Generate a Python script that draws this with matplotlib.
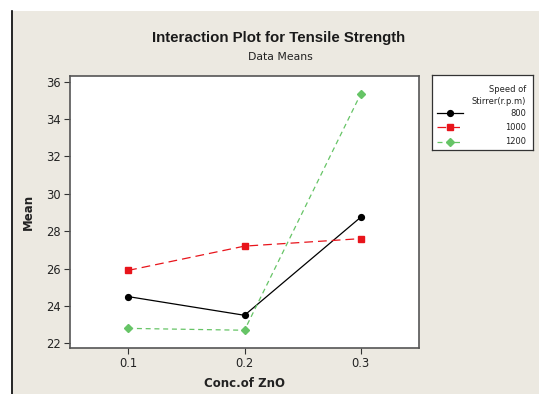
import matplotlib
matplotlib.use('Agg')
import matplotlib.pyplot as plt
from matplotlib.patches import Rectangle
from matplotlib.lines import Line2D

# ZnO concentration levels and mean tensile strength per stirrer speed
conc = [0.1, 0.2, 0.3]
speeds = ['800', '1000', '1200']
mean_800 = [24.5, 23.5, 28.75]
mean_1000 = [25.9, 27.2, 27.6]
mean_1200 = [22.8, 22.7, 35.35]

bg = '#ECE9E1'
styles = [
    dict(color='black', marker='o', linestyle='-', markersize=4.2),
    dict(color='#E8141B', marker='s', linestyle=(0, (7, 4)), markersize=4.2),
    dict(color='#66C466', marker='D', linestyle=(0, (4, 3)), markersize=3.8),
]

fig = plt.figure(figsize=(5.39, 3.94), dpi=100)
fig.patch.set_facecolor('white')

# beige panel with the dark border line on its left edge
W, H = 539, 394
fig.add_artist(Rectangle((13 / W, 0), 1, (H - 11) / H, transform=fig.transFigure,
                         facecolor=bg, edgecolor='none', zorder=0))
fig.add_artist(Line2D([12.5 / W, 12.5 / W], [0, (H - 11) / H], transform=fig.transFigure,
                      color='black', linewidth=1.2, zorder=1))

ax = fig.add_axes([70 / W, 1 - 348 / H, 349 / W, 272 / H])
ax.set_facecolor('white')

for vals, st in zip([mean_800, mean_1000, mean_1200], styles):
    ax.plot(conc, vals, linewidth=0.9, **st)

ax.set_xlim(0.05, 0.35)
ax.set_ylim(21.75, 36.3)
ax.set_xticks(conc)
ax.set_xticklabels(['0.1', '0.2', '0.3'])
ax.set_yticks(range(22, 37, 2))
ax.tick_params(direction='out', length=4, width=0.8, colors='#333333', pad=2.5,
               labelsize=8.3, labelcolor='#222222', top=False, right=False)
for s in ax.spines.values():
    s.set_color('#555555')
    s.set_linewidth(1.2)

ax.set_xlabel('Conc.of ZnO', fontsize=8.5, fontweight='bold', color='#222222', labelpad=5)
ax.set_ylabel('Mean', fontsize=8.5, fontweight='bold', color='#222222', labelpad=8)

fig.text(279 / W, 1 - 38 / H, 'Interaction Plot for Tensile Strength', ha='center',
         va='center', fontsize=10.8, fontweight='bold', color='#1a1a1a',
         family='Liberation Sans')
fig.text(280 / W, 1 - 57 / H, 'Data Means', ha='center', va='center',
         fontsize=7.8, color='#222222')

# legend panel drawn as its own small axes
lax = fig.add_axes([432 / W, 1 - 150 / H, 101 / W, 75 / H])
lax.set_facecolor('white')
lax.set_xlim(0, 101)
lax.set_ylim(75, 0)
lax.set_xticks([])
lax.set_yticks([])
for s in lax.spines.values():
    s.set_color('#333333')
    s.set_linewidth(0.9)
lax.text(94, 14, 'Speed of', ha='right', va='center', fontsize=6, color='#222222')
lax.text(94, 27, 'Stirrer(r.p.m)', ha='right', va='center', fontsize=6, color='#222222')
for i, (lab, st) in enumerate(zip(speeds, styles)):
    yy = 38 + i * 14.5
    lax.plot([5, 31], [yy, yy], linewidth=0.9, **{**st, 'marker': 'none'})
    lax.plot([18], [yy], color=st['color'], marker=st['marker'],
             markersize=st['markersize'], linestyle='none')
    lax.text(94, yy, lab, ha='right', va='center', fontsize=6, color='#222222')

fig.savefig('out.png', dpi=100, facecolor=fig.get_facecolor())
